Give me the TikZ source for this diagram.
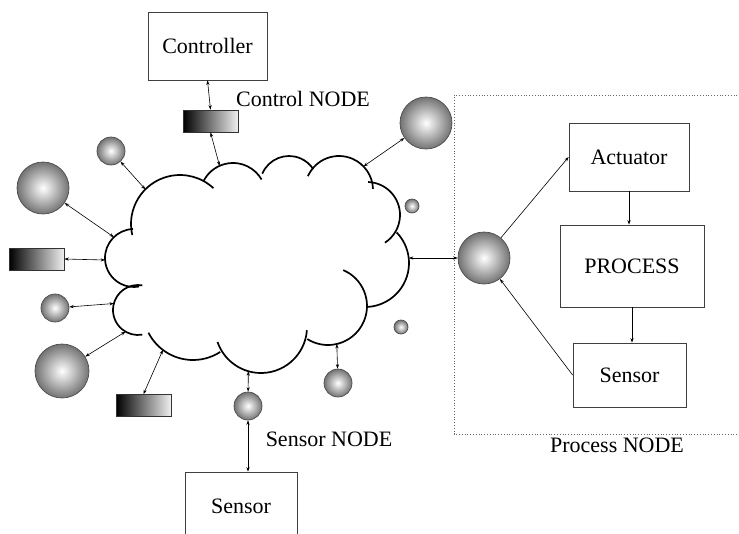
\documentclass[tikz,border=0pt]{standalone}
\usepackage{fontspec}
\setmainfont{Liberation Serif}
\usetikzlibrary{arrows.meta}

\begin{document}
\begin{tikzpicture}[x=1pt,y=-1pt,font=\fontsize{22}{26}\selectfont]
\useasboundingbox (0,0) rectangle (739,533);
\clip (0,0) rectangle (739,533);

\begin{scope}[line width=1.7pt]
    \draw ([shift={(167:49)}]180,224) arc[start angle=167,end angle=313,radius=49];
    \draw ([shift={(206:33)}]233,196) arc[start angle=206,end angle=330,radius=33];
    \draw ([shift={(203:29)}]289,185) arc[start angle=203,end angle=327,radius=29];
    \draw ([shift={(204:34)}]339,190) arc[start angle=204,end angle=358,radius=34];
    \draw ([shift={(272:33)}]367,215) arc[start angle=272,end angle=417,radius=33];
    \draw ([shift={(316:44)}]365,263) arc[start angle=316,end angle=446,radius=44];
    \draw ([shift={(293:39)}]328,306) arc[start angle=293,end angle=482,radius=39];
    \draw ([shift={(4:46)}]261,327) arc[start angle=4,end angle=161,radius=46];
    \draw ([shift={(153:50)}]193,310) arc[start angle=153,end angle=57,radius=50];
    \draw ([shift={(280:25)}]138,310) arc[start angle=280,end angle=80,radius=25];
    \draw ([shift={(268:29)}]134,258) arc[start angle=268,end angle=80,radius=29];
\end{scope}

\coordinate (nT) at (219.6,165.9);
\coordinate (nTL) at (145.4,189.4);
\coordinate (nL1) at (113.9,237.1);
\coordinate (nL2) at (105.1,260);
\coordinate (nL3) at (113.9,303.5);
\coordinate (nL4) at (125.5,331.7);
\coordinate (nB1) at (162.9,349.9);
\coordinate (nB2) at (248.3,371.2);
\coordinate (nB3) at (336.8,344);
\coordinate (nR) at (408.8,258);
\coordinate (nTR) at (363.5,166.4);

\begin{scope}[every node/.style={draw=black!75,line width=0.8pt,inner sep=0pt}]
    \node[minimum width=119pt,minimum height=68pt] (ctrl) at (207.5,46) {Controller};
    \node[minimum width=120pt,minimum height=68pt] (act) at (629,157) {Actuator};
    \node[minimum width=144pt,minimum height=82pt] (proc) at (632,266) {PROCESS};
    \node[minimum width=113pt,minimum height=64pt] (psens) at (629.5,375) {Sensor};
    \node[minimum width=112pt,minimum height=68pt] (sens) at (241,506) {Sensor};
\end{scope}

\begin{scope}[every node/.style={draw=black!80,line width=0.8pt,inner sep=0pt,
              left color=black,right color=white!94!black,
              minimum width=55pt,minimum height=22pt}]
    \node (cbar) at (210.5,121) {};
    \node (lbar) at (36.5,259) {};
    \node (bbar) at (143.5,405.5) {};
\end{scope}

\begin{scope}[every node/.style={circle,draw=black!70,line width=0.7pt,inner sep=0pt,
              inner color=white,outer color=black!55}]
    \node[minimum size=28pt] (b1) at (111,151) {};
    \node[minimum size=52pt] (b2) at (43,188) {};
    \node[minimum size=28pt] (b3) at (55,308) {};
    \node[minimum size=54pt] (b4) at (62,371) {};
    \node[minimum size=28pt] (b5) at (248,406) {};
    \node[minimum size=28pt] (b6) at (338,383) {};
    \node[minimum size=14pt] (b7) at (401,327) {};
    \node[minimum size=14pt] (b8) at (412,206) {};
    \node[minimum size=52pt] (b9) at (426,123) {};
    \node[minimum size=52pt] (b10) at (484,258) {};
\end{scope}

\draw[dotted,black!60,line width=0.8pt] (740,95) -- (454,95) -- (454,434) -- (740,434);

\node (ctlnode) at (303,99) {Control NODE};
\node (sensnode) at (329,439) {Sensor NODE};
\node (procnode) at (617,445) {Process NODE};

\begin{scope}[>={Stealth[length=4.5pt,width=3.2pt]},
              every edge/.style={draw=black,line width=0.6pt}]
    \path [<->] (ctrl.south) edge (cbar.north);
    \path [<->] (cbar.south) edge (nT);
    \path [<->] (b1) edge (nTL);
    \path [<->] (b2) edge (nL1);
    \path [<->] (lbar.east) edge (nL2);
    \path [<->] (b3) edge (nL3);
    \path [<->] (b4) edge (nL4);
    \path [<->] (bbar.north) edge (nB1);
    \path [<->] (b5) edge (nB2);
    \path [<->] (b5) edge (b5 |- sens.north);
    \path [<->] (b6) edge (nB3);
    \path [<->] (b9) edge (nTR);
    \path [<->] (b10) edge (nR);
    \path [->] (b10) edge (act.west);
    \path [->] (act.south) edge (act.south |- proc.north);
    \path [->] (proc.south) edge (proc.south |- psens.north);
    \path [->] (psens.west) edge (b10);
\end{scope}
\end{tikzpicture}
\end{document}
